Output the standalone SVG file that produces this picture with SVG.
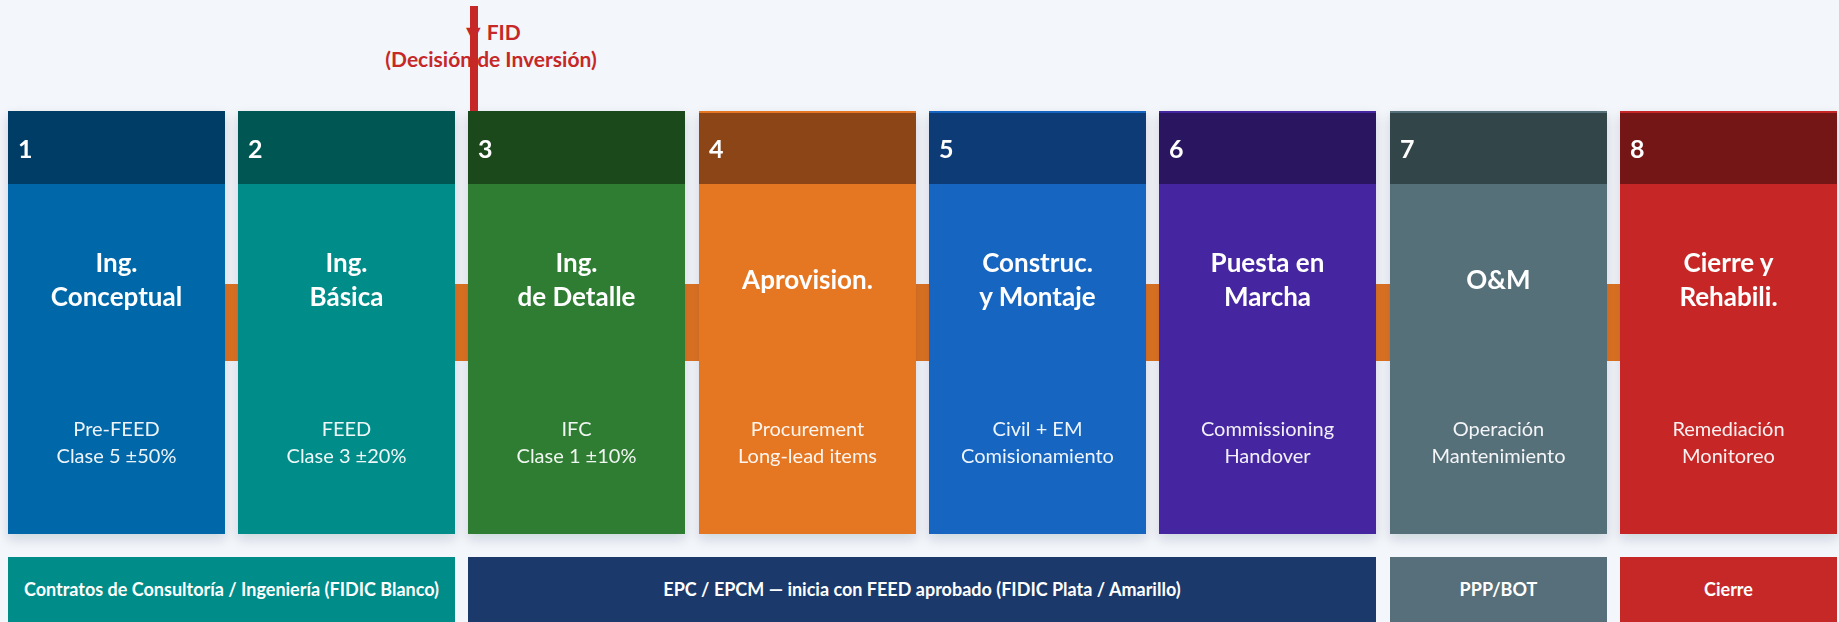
<svg xmlns="http://www.w3.org/2000/svg" width="1839" height="622" viewBox="0 0 1839 622">
<defs>
<filter id="sh" x="-10%" y="-10%" width="120%" height="125%">
<feDropShadow dx="0" dy="5" stdDeviation="6" flood-color="#1c2a40" flood-opacity="0.16"/>
</filter>
<style>
.num{font-family:Lato,"Open Sans",sans-serif;font-weight:700;font-size:25px;fill:#fff}
.ttl{font-family:Lato,"Open Sans",sans-serif;font-weight:700;font-size:26px;fill:#fff;text-anchor:middle}
.sub{font-family:Lato,"Open Sans",sans-serif;font-size:20px;fill:#fff;fill-opacity:0.93;text-anchor:middle}
.bar{font-family:Lato,"Open Sans",sans-serif;font-weight:700;font-size:18px;fill:#fff;text-anchor:middle}
.fid{font-family:Lato,"Open Sans",sans-serif;font-weight:700;font-size:21px;fill:#C62828;text-anchor:middle}
.tri{font-family:"DejaVu Sans",sans-serif;font-size:19px;fill:#C62828}
.conn{fill:#DF7322}
</style>
</defs>
<rect width="1839" height="622" fill="#F3F6FB"/>

<g id="connectors">
<rect class="conn" x="221" y="284" width="21" height="77"/>
<rect class="conn" x="451" y="284" width="21" height="77"/>
<rect class="conn" x="681" y="284" width="22" height="77"/>
<rect class="conn" x="912" y="284" width="21" height="77"/>
<rect class="conn" x="1142" y="284" width="21" height="77"/>
<rect class="conn" x="1372" y="284" width="22" height="77"/>
<rect class="conn" x="1603" y="284" width="21" height="77"/>
</g>

<g id="phase1" filter="url(#sh)">
<rect x="8" y="111" width="217" height="423" fill="#0067A8"/>
<rect x="8" y="111" width="217" height="73" fill="#013E66"/>
<text class="num" x="18" y="158">1</text>
<text class="ttl" x="116.5" y="272">Ing.</text>
<text class="ttl" x="116.5" y="306">Conceptual</text>
<text class="sub" x="116.5" y="436">Pre-FEED</text>
<text class="sub" x="116.5" y="463">Clase 5 ±50%</text>
</g>
<g id="phase2" filter="url(#sh)">
<rect x="238" y="111" width="217" height="423" fill="#008C88"/>
<rect x="238" y="111" width="217" height="73" fill="#005753"/>
<text class="num" x="248" y="158">2</text>
<text class="ttl" x="346.5" y="272">Ing.</text>
<text class="ttl" x="346.5" y="306">Básica</text>
<text class="sub" x="346.5" y="436">FEED</text>
<text class="sub" x="346.5" y="463">Clase 3 ±20%</text>
</g>
<g id="phase3" filter="url(#sh)">
<rect x="468" y="111" width="217" height="423" fill="#2E7D32"/>
<rect x="468" y="111" width="217" height="73" fill="#1C4A1F"/>
<text class="num" x="478" y="158">3</text>
<text class="ttl" x="576.5" y="272">Ing.</text>
<text class="ttl" x="576.5" y="306">de Detalle</text>
<text class="sub" x="576.5" y="436">IFC</text>
<text class="sub" x="576.5" y="463">Clase 1 ±10%</text>
</g>
<g id="phase4" filter="url(#sh)">
<rect x="699" y="111" width="217" height="423" fill="#E67722"/>
<rect x="699" y="111" width="217" height="73" fill="#8B4513"/>
<rect x="699" y="111" width="217" height="2" fill="#E67722"/>
<text class="num" x="709" y="158">4</text>
<text class="ttl" x="807.5" y="289">Aprovision.</text>
<text class="sub" x="807.5" y="436">Procurement</text>
<text class="sub" x="807.5" y="463">Long-lead items</text>
</g>
<g id="phase5" filter="url(#sh)">
<rect x="929" y="111" width="217" height="423" fill="#1565C0"/>
<rect x="929" y="111" width="217" height="73" fill="#0E3B75"/>
<rect x="929" y="111" width="217" height="2" fill="#1565C0"/>
<text class="num" x="939" y="158">5</text>
<text class="ttl" x="1037.5" y="272">Construc.</text>
<text class="ttl" x="1037.5" y="306">y Montaje</text>
<text class="sub" x="1037.5" y="436">Civil + EM</text>
<text class="sub" x="1037.5" y="463">Comisionamiento</text>
</g>
<g id="phase6" filter="url(#sh)">
<rect x="1159" y="111" width="217" height="423" fill="#4527A0"/>
<rect x="1159" y="111" width="217" height="73" fill="#2A1760"/>
<rect x="1159" y="111" width="217" height="2" fill="#4527A0"/>
<text class="num" x="1169" y="158">6</text>
<text class="ttl" x="1267.5" y="272">Puesta en</text>
<text class="ttl" x="1267.5" y="306">Marcha</text>
<text class="sub" x="1267.5" y="436">Commissioning</text>
<text class="sub" x="1267.5" y="463">Handover</text>
</g>
<g id="phase7" filter="url(#sh)">
<rect x="1390" y="111" width="217" height="423" fill="#566F7A"/>
<rect x="1390" y="111" width="217" height="73" fill="#324449"/>
<rect x="1390" y="111" width="217" height="2" fill="#566F7A"/>
<text class="num" x="1400" y="158">7</text>
<text class="ttl" x="1498.5" y="289">O&amp;M</text>
<text class="sub" x="1498.5" y="436">Operación</text>
<text class="sub" x="1498.5" y="463">Mantenimiento</text>
</g>
<g id="phase8" filter="url(#sh)">
<rect x="1620" y="111" width="217" height="423" fill="#C62828"/>
<rect x="1620" y="111" width="217" height="73" fill="#751818"/>
<rect x="1620" y="111" width="217" height="2" fill="#C62828"/>
<text class="num" x="1630" y="158">8</text>
<text class="ttl" x="1728.5" y="272">Cierre y</text>
<text class="ttl" x="1728.5" y="306">Rehabili.</text>
<text class="sub" x="1728.5" y="436">Remediación</text>
<text class="sub" x="1728.5" y="463">Monitoreo</text>
</g>

<g id="contract1">
<rect x="8" y="557" width="447" height="65" fill="#008C88"/>
<text class="bar" x="231.5" y="596">Contratos de Consultoría / Ingeniería (FIDIC Blanco)</text>
</g>
<g id="contract2">
<rect x="468" y="557" width="908" height="65" fill="#1B3A6B"/>
<text class="bar" x="922" y="596">EPC / EPCM — inicia con FEED aprobado (FIDIC Plata / Amarillo)</text>
</g>
<g id="contract3">
<rect x="1390" y="557" width="217" height="65" fill="#566F7A"/>
<text class="bar" x="1498.5" y="596">PPP/BOT</text>
</g>
<g id="contract4">
<rect x="1620" y="557" width="217" height="65" fill="#C62828"/>
<text class="bar" x="1728.5" y="596">Cierre</text>
</g>

<g id="fid">
<text x="466" y="40"><tspan class="tri">▼</tspan><tspan class="fid" style="text-anchor:start" dx="6">FID</tspan></text>
<text class="fid" x="491" y="67">(Decisión de Inversión)</text>
<rect x="470" y="6" width="8" height="105" fill="#C62828"/>
</g>
</svg>
